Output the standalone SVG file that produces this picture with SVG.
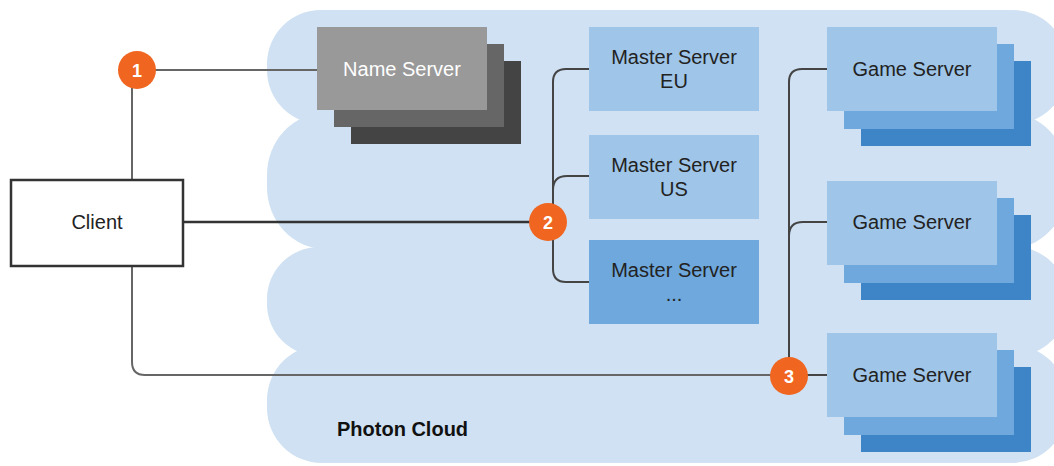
<svg xmlns="http://www.w3.org/2000/svg" width="1054" height="466" viewBox="0 0 1054 466">
<style>
.cloud{fill:#cfe1f2}
.t{font-family:"Liberation Sans",Arial,sans-serif;font-size:20px;fill:#222;text-anchor:middle}
.tw{fill:#fff}
.num{font-family:"Liberation Sans",Arial,sans-serif;font-size:18px;font-weight:bold;fill:#fff;text-anchor:middle}
.badge{fill:#f0651f}
.c1{fill:#9fc5e8}.c2{fill:#6fa8dc}.c3{fill:#3d85c6}
.g1{fill:#999}.g2{fill:#666}.g3{fill:#444}
.ln{fill:none;stroke:#666;stroke-width:2}
.ld{fill:none;stroke:#333;stroke-width:2.5}
.lc{fill:none;stroke:#444;stroke-width:2}
</style>
<g id="cloud">
<rect class="cloud" x="267" y="10" width="800" height="114" rx="54" ry="54"/>
<rect class="cloud" x="267" y="113" width="800" height="136" rx="58" ry="62"/>
<rect class="cloud" x="267" y="247" width="800" height="109" rx="52" ry="52"/>
<rect class="cloud" x="267" y="345" width="800" height="118" rx="55" ry="55"/>
<text x="337" y="436" style="font-family:'Liberation Sans',Arial,sans-serif;font-size:20px;font-weight:bold;fill:#111">Photon Cloud</text>
</g>
<g id="connectors">
<path class="ln" d="M137,70 H317"/>
<path class="ln" d="M132,70 V180"/>
<path class="ld" d="M183,222 H548"/>
<path class="ln" d="M132,266 V362 Q132,375 145,375 H789"/>
<path class="lc" d="M589,69 H566 Q553,69 553,82 V269 Q553,282 566,282 H589"/>
<path class="lc" d="M553,190 Q553,176 567,176 H589"/>
<path class="lc" d="M827,69 H802 Q789,69 789,82 V376"/>
<path class="lc" d="M789,236 Q789,222 803,222 H827"/>
<path class="lc" d="M789,375 H827"/>
</g>
<g id="client">
<rect x="11" y="180" width="172" height="86" fill="#fff" stroke="#333" stroke-width="2.5"/>
<text class="t" x="97" y="229">Client</text>
</g>
<g id="name-server">
<rect class="g3" x="351" y="61" width="170" height="83"/>
<rect class="g2" x="334" y="44" width="170" height="83"/>
<rect class="g1" x="317" y="27" width="170" height="83"/>
<text class="t tw" x="402" y="76">Name Server</text>
</g>
<g id="master-eu">
<rect class="c1" x="589" y="27" width="170" height="84"/>
<text class="t" x="674" y="64">Master Server</text>
<text class="t" x="674" y="88">EU</text>
</g>
<g id="master-us">
<rect class="c1" x="589" y="135" width="170" height="84"/>
<text class="t" x="674" y="172">Master Server</text>
<text class="t" x="674" y="196">US</text>
</g>
<g id="master-more">
<rect class="c2" x="589" y="240" width="170" height="84"/>
<text class="t" x="674" y="277">Master Server</text>
<text class="t" x="674" y="301">...</text>
</g>
<g id="game-1">
<rect class="c3" x="861" y="61" width="170" height="85"/>
<rect class="c2" x="844" y="44" width="170" height="85"/>
<rect class="c1" x="827" y="27" width="170" height="84"/>
<text class="t" x="912" y="76">Game Server</text>
</g>
<g id="game-2">
<rect class="c3" x="861" y="215" width="170" height="85"/>
<rect class="c2" x="844" y="198" width="170" height="85"/>
<rect class="c1" x="827" y="181" width="170" height="84"/>
<text class="t" x="912" y="229">Game Server</text>
</g>
<g id="game-3">
<rect class="c3" x="861" y="367" width="170" height="85"/>
<rect class="c2" x="844" y="350" width="170" height="85"/>
<rect class="c1" x="827" y="333" width="170" height="84"/>
<text class="t" x="912" y="382">Game Server</text>
</g>
<g id="badge-1">
<circle class="badge" cx="137" cy="70" r="19"/>
<text class="num" x="137" y="76.5">1</text>
</g>
<g id="badge-2">
<circle class="badge" cx="548" cy="222" r="19"/>
<text class="num" x="548" y="228.5">2</text>
</g>
<g id="badge-3">
<circle class="badge" cx="789" cy="376" r="19"/>
<text class="num" x="789" y="382.5">3</text>
</g>
</svg>
